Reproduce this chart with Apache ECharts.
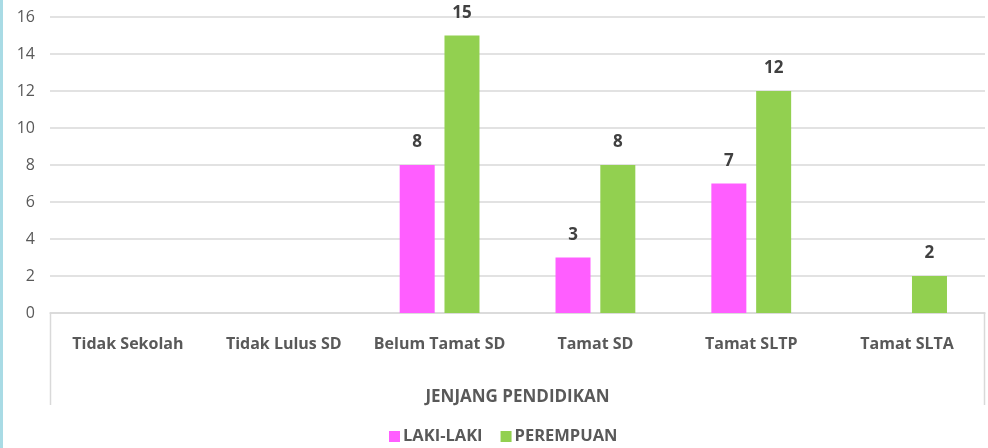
<!DOCTYPE html>
<html>
<head>
<meta charset="utf-8">
<script src="https://cdn.jsdelivr.net/npm/echarts@6/dist/echarts.min.js"></script>
<style>
  html, body { margin: 0; padding: 0; background: #fff; }
  #main { width: 985px; height: 448px; border-left: 3px solid #a9dbe5; }
</style>
</head>
<body>
<div id="main"></div>
<script>
const categories = ["Tidak Sekolah", "Tidak Lulus SD", "Belum Tamat SD", "Tamat SD", "Tamat SLTP", "Tamat SLTA"];
const lakiLaki = [null, null, 8, 3, 7, null];
const perempuan = [null, null, 15, 8, 12, 2];
const seriesNames = ["LAKI-LAKI", "PEREMPUAN"];
const axisTitle = "JENJANG PENDIDIKAN";

const font = "'Open Sans', sans-serif";

const barLabel = {
  show: true,
  position: "top",
  distance: 14,
  color: "#404040",
  fontFamily: font,
  fontWeight: "bold",
  fontSize: 17
};

const option = {
  animation: false,
  grid: {
    left: 47,
    right: 3,
    top: 17,
    bottom: 135
  },
  legend: {
    bottom: -2,
    left: 381,
    itemWidth: 11,
    itemHeight: 11,
    itemGap: 18,
    icon: "rect",
    textStyle: {
      color: "#595959",
      fontFamily: font,
      fontWeight: "bold",
      fontSize: 16.5,
      padding: [0, 0, 0, -2]
    },
    data: seriesNames
  },
  xAxis: {
    type: "category",
    data: categories,
    name: axisTitle,
    nameLocation: "middle",
    nameGap: 76,
    nameTextStyle: {
      color: "#595959",
      fontFamily: font,
      fontWeight: "bold",
      fontSize: 17
    },
    axisLine: { lineStyle: { color: "#d9d9d9", width: 1.5 } },
    axisTick: { show: false },
    axisLabel: {
      interval: 0,
      color: "#595959",
      fontFamily: font,
      fontWeight: "bold",
      fontSize: 16,
      margin: 23
    }
  },
  yAxis: {
    type: "value",
    min: 0,
    max: 16,
    interval: 2,
    axisLine: { show: false },
    axisTick: { show: false },
    splitLine: { lineStyle: { color: "#d9d9d9", width: 1.5 } },
    axisLabel: {
      color: "#595959",
      fontFamily: font,
      fontSize: 16,
      margin: 15
    }
  },
  graphic: [
    {
      type: "line",
      shape: { x1: 47.5, y1: 313, x2: 47.5, y2: 405 },
      style: { stroke: "#d9d9d9", lineWidth: 1.5 }
    },
    {
      type: "line",
      shape: { x1: 981.5, y1: 313, x2: 981.5, y2: 405 },
      style: { stroke: "#d9d9d9", lineWidth: 1.5 }
    }
  ],
  series: [
    {
      name: seriesNames[0],
      type: "bar",
      data: lakiLaki,
      barWidth: 35,
      barGap: "28%",
      itemStyle: { color: "#ff5eff" },
      label: barLabel
    },
    {
      name: seriesNames[1],
      type: "bar",
      data: perempuan,
      barWidth: 35,
      itemStyle: { color: "#92d050" },
      label: barLabel
    }
  ]
};

const myChart = echarts.init(document.getElementById("main"));
myChart.setOption(option);
</script>
</body>
</html>
